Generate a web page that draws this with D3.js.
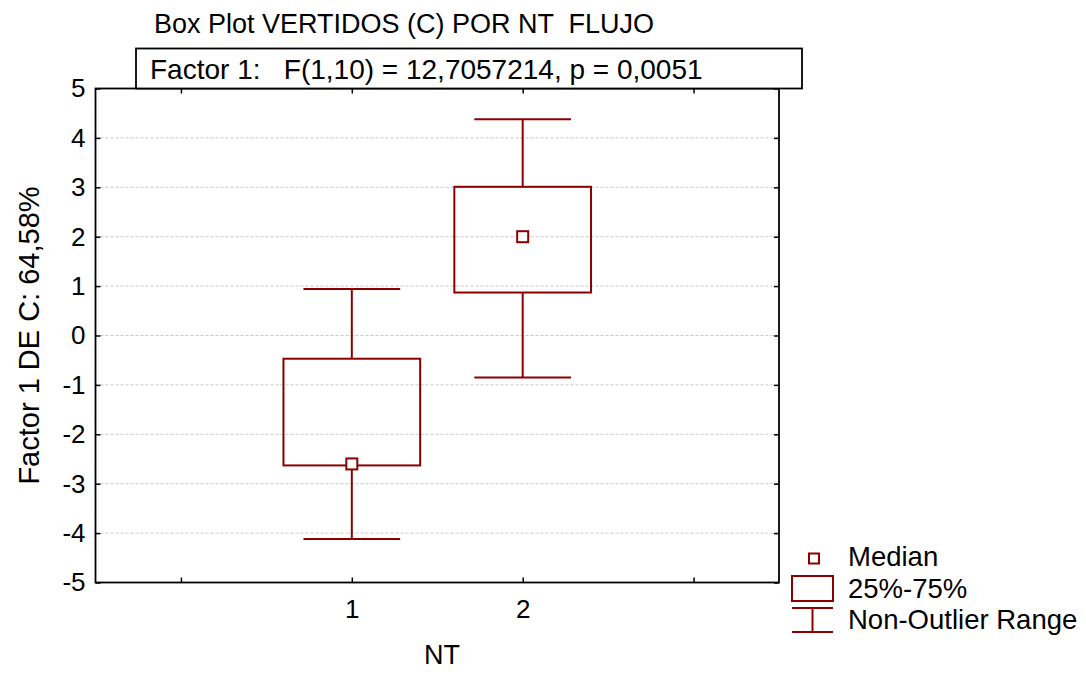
<!DOCTYPE html>
<html>
<head>
<meta charset="utf-8">
<script src="https://cdn.jsdelivr.net/npm/d3@7/dist/d3.min.js"></script>
<style>
  body { margin: 0; background: #fff; }
  svg text { font-family: "Liberation Sans", Arial, sans-serif; fill: #000; white-space: pre; }
</style>
</head>
<body>
<svg id="chart" width="1086" height="675"></svg>
<script>
'use strict';

// data
var categories = ['1', '2'];
var whiskerLow = [-4.12, -0.85];
var boxLow = [-2.63, 0.87];
var medians = [-2.60, 2.00];
var boxHigh = [-0.47, 3.01];
var whiskerHigh = [0.94, 4.38];
var yTicks = [-5, -4, -3, -2, -1, 0, 1, 2, 3, 4, 5];
var xTicks = [0, 1, 2, 3];

var title = 'Box Plot VERTIDOS (C) POR NT  FLUJO';
var subtitle = 'Factor 1:   F(1,10) = 12,7057214, p = 0,0051';
var xTitle = 'NT';
var yTitle = 'Factor 1 DE C: 64,58%';
var legendLabels = ['Median', '25%-75%', 'Non-Outlier Range'];

var red = '#8b0000';
var svg = d3.select('#chart');

var plot = { left: 95.5, right: 779, top: 88.5, bottom: 582.5 };

var x = d3.scaleLinear().domain([-0.5, 3.5]).range([plot.left, plot.right]);
var y = d3.scaleLinear().domain([-5, 5]).range([plot.bottom, plot.top]);

// grid lines
svg.append('g')
  .selectAll('line')
  .data(yTicks.filter(function(d){ return d > -5 && d < 5; }))
  .enter().append('line')
  .attr('x1', plot.left).attr('x2', plot.right)
  .attr('y1', function(d){ return y(d); })
  .attr('y2', function(d){ return y(d); })
  .attr('stroke', '#c8c8c8')
  .attr('stroke-width', 1)
  .attr('stroke-dasharray', '3,2');

// axes, ticks pointing inward
var tickLen = 5;
svg.append('g')
  .attr('transform', 'translate(' + plot.left + ',0)')
  .call(d3.axisLeft(y).tickValues(yTicks).tickSizeInner(-tickLen).tickSizeOuter(0).tickPadding(10)
    .tickFormat(function(d){ return String(d); }))
  .call(function(g){ g.select('.domain').remove(); });

svg.append('g')
  .attr('transform', 'translate(' + plot.right + ',0)')
  .call(d3.axisRight(y).tickValues(yTicks).tickSizeInner(-tickLen).tickSizeOuter(0).tickFormat(''))
  .call(function(g){ g.select('.domain').remove(); });

svg.append('g')
  .attr('transform', 'translate(0,' + plot.bottom + ')')
  .call(d3.axisBottom(x).tickValues(xTicks).tickSizeInner(-tickLen).tickSizeOuter(0).tickPadding(17)
    .tickFormat(function(d){ return categories[d - 1] || ''; }))
  .call(function(g){ g.select('.domain').remove(); });

svg.append('g')
  .attr('transform', 'translate(0,' + plot.top + ')')
  .call(d3.axisTop(x).tickValues(xTicks).tickSizeInner(-tickLen).tickSizeOuter(0).tickFormat(''))
  .call(function(g){ g.select('.domain').remove(); });

svg.selectAll('.tick line').attr('stroke', '#000').attr('stroke-width', 1.5);
svg.selectAll('.tick text').style('font-size', '26px').attr('fill', '#000');

// frame
svg.append('rect')
  .attr('x', plot.left).attr('y', plot.top)
  .attr('width', plot.right - plot.left).attr('height', plot.bottom - plot.top)
  .attr('fill', 'none').attr('stroke', '#000').attr('stroke-width', 1.8);

// boxes
var boxHalf = 0.4, capHalf = 0.283, medHalf = 5.5;
var groups = svg.append('g').selectAll('g')
  .data(categories.map(function(c, i){
    return { cat: +c, lo: whiskerLow[i], q1: boxLow[i], med: medians[i], q3: boxHigh[i], hi: whiskerHigh[i] };
  }))
  .enter().append('g')
  .attr('stroke', red).attr('stroke-width', 2).attr('fill', 'none');

groups.append('line')
  .attr('x1', function(d){ return x(d.cat); }).attr('x2', function(d){ return x(d.cat); })
  .attr('y1', function(d){ return y(d.hi); }).attr('y2', function(d){ return y(d.q3); });
groups.append('line')
  .attr('x1', function(d){ return x(d.cat); }).attr('x2', function(d){ return x(d.cat); })
  .attr('y1', function(d){ return y(d.q1); }).attr('y2', function(d){ return y(d.lo); });
groups.append('line')
  .attr('x1', function(d){ return x(d.cat - capHalf); }).attr('x2', function(d){ return x(d.cat + capHalf); })
  .attr('y1', function(d){ return y(d.hi); }).attr('y2', function(d){ return y(d.hi); });
groups.append('line')
  .attr('x1', function(d){ return x(d.cat - capHalf); }).attr('x2', function(d){ return x(d.cat + capHalf); })
  .attr('y1', function(d){ return y(d.lo); }).attr('y2', function(d){ return y(d.lo); });
groups.append('rect')
  .attr('x', function(d){ return x(d.cat - boxHalf); })
  .attr('y', function(d){ return y(d.q3); })
  .attr('width', function(d){ return x(d.cat + boxHalf) - x(d.cat - boxHalf); })
  .attr('height', function(d){ return y(d.q1) - y(d.q3); });
groups.append('rect')
  .attr('x', function(d){ return x(d.cat) - medHalf; })
  .attr('y', function(d){ return y(d.med) - medHalf; })
  .attr('width', medHalf * 2).attr('height', medHalf * 2)
  .attr('fill', '#fff');

// titles
svg.append('text').attr('x', 154).attr('y', 33).style('font-size', '27px').text(title);

svg.append('rect')
  .attr('x', 136).attr('y', 48.5).attr('width', 666).attr('height', 40)
  .attr('fill', '#fff').attr('stroke', '#000').attr('stroke-width', 1.8);
svg.append('text').attr('x', 150).attr('y', 79)
  .style('font-size', '28px').text(subtitle);

svg.append('text')
  .attr('x', 442).attr('y', 664)
  .attr('text-anchor', 'middle').style('font-size', '27px').text(xTitle);

svg.append('text')
  .attr('transform', 'translate(39,' + ((plot.top + plot.bottom) / 2) + ') rotate(-90)')
  .attr('text-anchor', 'middle').style('font-size', '29px').text(yTitle);

// legend
var lg = svg.append('g').attr('stroke', red).attr('stroke-width', 2).attr('fill', 'none');
lg.append('rect').attr('x', 809).attr('y', 553.5).attr('width', 10).attr('height', 10);
lg.append('rect').attr('x', 792).attr('y', 576).attr('width', 41).attr('height', 25);
lg.append('line').attr('x1', 792).attr('x2', 833).attr('y1', 608).attr('y2', 608);
lg.append('line').attr('x1', 792).attr('x2', 833).attr('y1', 632).attr('y2', 632);
lg.append('line').attr('x1', 812.5).attr('x2', 812.5).attr('y1', 608).attr('y2', 632);

svg.append('g').selectAll('text')
  .data(legendLabels)
  .enter().append('text')
  .attr('x', 848)
  .attr('y', function(d, i){ return 566 + i * 31.5; })
  .style('font-size', '27.5px')
  .text(function(d){ return d; });
</script>
</body>
</html>
